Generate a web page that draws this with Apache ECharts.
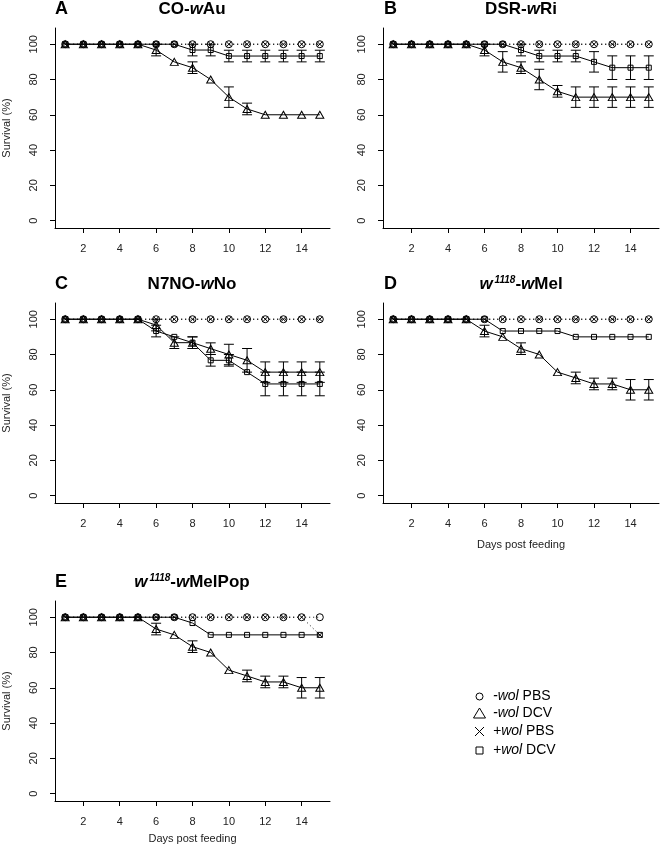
<!DOCTYPE html>
<html>
<head>
<meta charset="utf-8">
<script src="https://cdn.jsdelivr.net/npm/echarts@6/dist/echarts.min.js"></script>
<style>html,body{margin:0;padding:0;background:#fff}#c{width:660px;height:846px}</style>
</head>
<body>
<div id="c"></div>
<script>
// ---------------- data ----------------
const days = [1,2,3,4,5,6,7,8,9,10,11,12,13,14,15];
const xTicks = [2,4,6,8,10,12,14];
const yTicks = [0,20,40,60,80,100];
const seriesNames = ['-wol PBS','-wol DCV','+wol PBS','+wol DCV'];

// Panel A: CO-wAu
const A_negPBS = [100,100,100,100,100,100,100,100,100,100,100,100,100,100,100];
const A_negDCV = [100,100,100,100,100,96.7,90,86.7,80,70,63.3,60,60,60,60];
const A_negDCV_err = [0,0,0,0,0,3.3,0,3.3,0,5.8,3.3,0,0,0,0];
const A_posPBS = [100,100,100,100,100,100,100,100,100,100,100,100,100,100,100];
const A_posDCV = [100,100,100,100,100,100,100,96.7,96.7,93.3,93.3,93.3,93.3,93.3,93.3];
const A_posDCV_err = [0,0,0,0,0,0,0,3.3,3.3,3.3,3.3,3.3,3.3,3.3,3.3];

// Panel B: DSR-wRi
const B_negPBS = [100,100,100,100,100,100,100,100,100,100,100,100,100,100,100];
const B_negDCV = [100,100,100,100,100,96.7,90,86.7,80,73.3,70,70,70,70,70];
const B_negDCV_err = [0,0,0,0,0,3.3,5.8,3.3,5.8,3.3,5.8,5.8,5.8,5.8,5.8];
const B_posPBS = [100,100,100,100,100,100,100,100,100,100,100,100,100,100,100];
const B_posDCV = [100,100,100,100,100,100,100,96.7,93.3,93.3,93.3,90,86.7,86.7,86.7];
const B_posDCV_err = [0,0,0,0,0,0,0,3.3,3.3,3.3,3.3,5.8,6.7,6.7,6.7];

// Panel C: N7NO-wNo
const C_negPBS = [100,100,100,100,100,100,100,100,100,100,100,100,100,100,100];
const C_negDCV = [100,100,100,100,100,96.7,86.7,86.7,83.3,80,76.7,70,70,70,70];
const C_negDCV_err = [0,0,0,0,0,3.3,3.3,3.3,3.3,5.8,6.7,5.8,5.8,5.8,5.8];
const C_posPBS = [100,100,100,100,100,100,100,100,100,100,100,100,100,100,100];
const C_posDCV = [100,100,100,100,100,93.3,90,86.7,76.7,76.7,70,63.3,63.3,63.3,63.3];
const C_posDCV_err = [0,0,0,0,0,3.3,0,3.3,3.3,3.3,0,6.7,6.7,6.7,6.7];

// Panel D: w1118-wMel
const D_negPBS = [100,100,100,100,100,100,100,100,100,100,100,100,100,100,100];
const D_negDCV = [100,100,100,100,100,93.3,90,83.3,80,70,66.7,63.3,63.3,60,60];
const D_negDCV_err = [0,0,0,0,0,3.3,0,3.3,0,0,3.3,3.3,3.3,5.8,5.8];
const D_posPBS = [100,100,100,100,100,100,100,100,100,100,100,100,100,100,100];
const D_posDCV = [100,100,100,100,100,100,93.3,93.3,93.3,93.3,90,90,90,90,90];
const D_posDCV_err = [0,0,0,0,0,0,0,0,0,0,0,0,0,0,0];

// Panel E: w1118-wMelPop
const E_negPBS = [100,100,100,100,100,100,100,100,100,100,100,100,100,100,100];
const E_negDCV = [100,100,100,100,100,93.3,90,83.3,80,70,66.7,63.3,63.3,60,60];
const E_negDCV_err = [0,0,0,0,0,3.3,0,3.3,0,0,3.3,3.3,3.3,5.8,5.8];
const E_posPBS = [100,100,100,100,100,100,100,100,100,100,100,100,100,100,90];
const E_posDCV = [100,100,100,100,100,100,100,96.7,90,90,90,90,90,90,90];
const E_posDCV_err = [0,0,0,0,0,0,0,0,0,0,0,0,0,0,0];

// ---------------- layout / style ----------------
const FONT = "'Liberation Sans', Arial, Helvetica, sans-serif";
const panels = [
  {letter:'A', title:'CO-{i|w}Au', left:54, top:28, yName:true, xName:null,
   vals:[A_negPBS,A_negDCV,A_posPBS,A_posDCV], errs:[null,A_negDCV_err,null,A_posDCV_err]},
  {letter:'B', title:'DSR-{i|w}Ri', left:383, top:28, yName:false, xName:null,
   vals:[B_negPBS,B_negDCV,B_posPBS,B_posDCV], errs:[null,B_negDCV_err,null,B_posDCV_err]},
  {letter:'C', title:'N7NO-{i|w}No', left:54, top:303, yName:true, xName:null,
   vals:[C_negPBS,C_negDCV,C_posPBS,C_posDCV], errs:[null,C_negDCV_err,null,C_posDCV_err]},
  {letter:'D', title:'{i|w}{sup|1118}-{i|w}Mel', left:383, top:303, yName:false, xName:36,
   vals:[D_negPBS,D_negDCV,D_posPBS,D_posDCV], errs:[null,D_negDCV_err,null,D_posDCV_err]},
  {letter:'E', title:'{i|w}{sup|1118}-{i|w}MelPop', left:54, top:601, yName:true, xName:32,
   vals:[E_negPBS,E_negDCV,E_posPBS,E_posDCV], errs:[null,E_negDCV_err,null,E_posDCV_err]}
];
const GW = 276, GH = 200;
const symbols = ['circle','triangle','path://M0,0L10,10M10,0L0,10','rect'];
const symbolSizes = [7,[8,7],5,5];
const dashed = [true,false,true,false];
const itemStyle = {color:'rgba(0,0,0,0)', borderColor:'#000', borderWidth:1};

const grids = [], xAxes = [], yAxes = [], series = [], graphics = [];
panels.forEach((p, i) => {
  grids.push({left:p.left, top:p.top, width:GW, height:GH, containLabel:false});
  xAxes.push({
    type:'value', gridIndex:i, min:0.44, max:15.56,
    axisLine:{show:true, onZero:false, lineStyle:{color:'#000', width:1}},
    axisTick:{show:true, length:5, customValues:xTicks, lineStyle:{color:'#000'}},
    axisLabel:{show:true, customValues:xTicks, margin:15, fontSize:11, color:'#222', fontFamily:FONT},
    splitLine:{show:false},
    name: p.xName !== null ? 'Days post feeding' : '',
    nameLocation:'middle', nameGap: p.xName !== null ? p.xName : 0,
    nameTextStyle:{fontSize:11, color:'#222', fontFamily:FONT}
  });
  yAxes.push({
    type:'value', gridIndex:i, min:-4.2, max:109.2,
    axisLine:{show:true, onZero:false, lineStyle:{color:'#000', width:1}},
    axisTick:{show:true, length:5, customValues:yTicks, lineStyle:{color:'#000'}},
    axisLabel:{show:true, customValues:yTicks, rotate:90, margin:16, fontSize:11, color:'#222', fontFamily:FONT},
    splitLine:{show:false},
    name: p.yName ? 'Survival (%)' : '',
    nameLocation:'middle', nameGap:43, nameRotate:90,
    nameTextStyle:{fontSize:11, color:'#222', fontFamily:FONT}
  });
  p.vals.forEach((arr, k) => {
    series.push({
      type:'line', name:seriesNames[k], xAxisIndex:i, yAxisIndex:i,
      data: days.map((d, j) => [d, arr[j]]),
      symbol:symbols[k], symbolSize:symbolSizes[k], showAllSymbol:true,
      lineStyle:{color:'#000', width:1, type: dashed[k] ? [1,3] : 'solid'},
      itemStyle:itemStyle, emphasis:{disabled:true}, silent:true, z:2
    });
    const e = p.errs[k];
    if (e) {
      const ed = [];
      days.forEach((d, j) => { if (e[j] > 0) ed.push([d, arr[j] - e[j], arr[j] + e[j]]); });
      series.push({
        type:'custom', xAxisIndex:i, yAxisIndex:i, data:ed, silent:true, z:3,
        encode:{x:0, y:[1,2]},
        renderItem:(params, api) => {
          const x = api.value(0);
          const lo = api.coord([x, api.value(1)]);
          const hi = api.coord([x, api.value(2)]);
          const w = 5, st = {stroke:'#000', lineWidth:1};
          return {type:'group', children:[
            {type:'line', shape:{x1:lo[0], y1:lo[1], x2:hi[0], y2:hi[1]}, style:st},
            {type:'line', shape:{x1:lo[0]-w, y1:lo[1], x2:lo[0]+w, y2:lo[1]}, style:st},
            {type:'line', shape:{x1:hi[0]-w, y1:hi[1], x2:hi[0]+w, y2:hi[1]}, style:st}
          ]};
        }
      });
    }
  });
  // panel letter and title
  const ty = p.top - 18.5;
  graphics.push({type:'text', x:p.left + 1, y:ty, style:{text:p.letter, fontSize:18, fontWeight:'bold', fontFamily:FONT, fill:'#000', align:'left', verticalAlign:'middle'}});
  graphics.push({type:'text', x:p.left + GW/2, y:ty, style:{
    text:p.title, fontSize:17, fontWeight:'bold', fontFamily:FONT, fill:'#000', lineHeight:19,
    align:'center', verticalAlign:'middle',
    rich:{
      i:{fontSize:17, fontWeight:'bold', fontStyle:'italic', fontFamily:FONT, fill:'#000', lineHeight:19},
      sup:{fontSize:10, fontWeight:'bold', fontStyle:'italic', fontFamily:FONT, fill:'#000', lineHeight:10, verticalAlign:'top', padding:[0,0,0,2]}
    }}});
});

// legends (one per entry so each icon can have its own size)
const legendIcons = ['circle','triangle','path://M0,0L10,10M10,0L0,10','rect'];
const legendSizes = [[7,7],[12,10],[9,9],[7,7]];
const legendRowY = [693,711,729,747];
const legends = seriesNames.map((nm, k) => {
  const w = legendSizes[k][0], h = legendSizes[k][1];
  return {
    data:[{name:nm, icon:legendIcons[k]}], orient:'vertical',
    left: 479 - w/2, top: legendRowY[k] - h/2, itemWidth:w, itemHeight:h, padding:0,
    selectedMode:false, itemStyle:{color:'rgba(0,0,0,0)', borderColor:'#000', borderWidth:1},
    formatter: n => n.replace(/^([-+]wol)/, '{i|$1}'),
    textStyle:{fontSize:14, color:'#000', fontFamily:FONT, padding:[0,0,0, 492.5 - (479 + w/2 + 5)],
      rich:{i:{fontSize:14, fontStyle:'italic', color:'#000', fontFamily:FONT}}}
  };
});

const chart = echarts.init(document.getElementById('c'), null, {renderer:'canvas'});
chart.setOption({
  animation:false, backgroundColor:'#fff',
  grid:grids, xAxis:xAxes, yAxis:yAxes, series:series, legend:legends, graphic:graphics
});
</script>
</body>
</html>
